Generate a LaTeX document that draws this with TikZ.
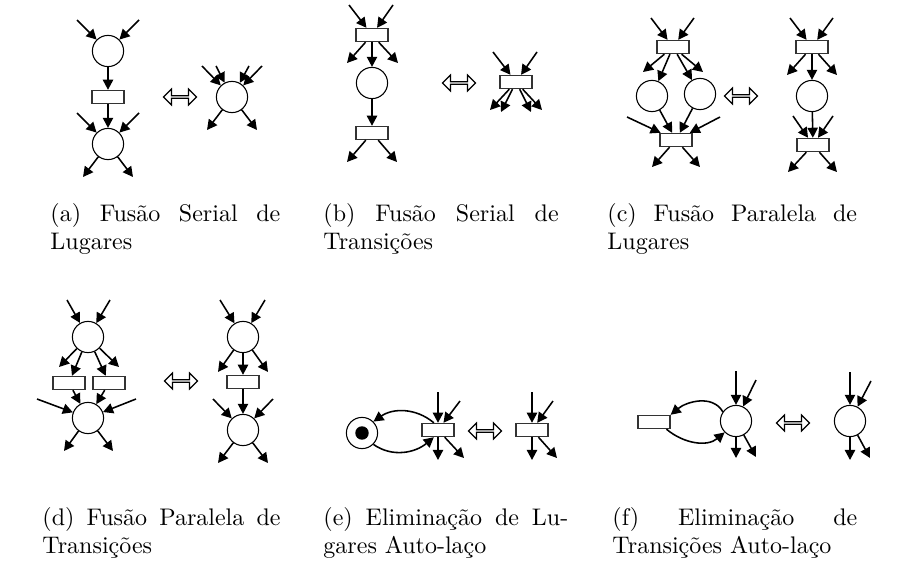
\documentclass[tikz,border=0pt]{standalone}
\usepackage{fontspec}
\usepackage{tikz}
\usetikzlibrary{shapes.arrows,arrows.meta}

\begin{document}
\begin{tikzpicture}[x=0.41667pt,y=-0.41667pt,
                lugar/.style={circle,draw,line width=.45pt,minimum size=13pt,inner sep=0pt},
                ficha/.style={circle,fill=black,minimum size=5.6pt,inner sep=0pt},
                transicao/.style={rectangle,draw=black!80,line width=.6pt,minimum width=13.3pt,minimum height=5.4pt,inner sep=0pt},
                arco/.style={line width=.65pt,-{Triangle[length=4.2pt,width=4.3pt]}},
                equiv/.style={double arrow,draw,line width=.5pt,inner sep=0pt,minimum height=13.75pt,minimum width=6.6pt,double arrow head extend=1.3pt},
                legenda/.style={anchor=base west,inner sep=0pt}]
                \useasboundingbox (0,0) rectangle (897,563);

                \node[lugar] (a1) at (108,51) {};
                \node[transicao] (a2) at (108,97) {};
                \node[lugar] (a3) at (108,144) {};
                \node[equiv] (aeq) at (180,97) {};
                \node[lugar] (a4) at (232,97) {};
                \draw[arco] (a1) -- (a2);
                \draw[arco] (a2) -- (a3);
                \foreach \x/\y [count=\i] in {77/20,139/20} \draw[arco] (\x,\y) coordinate (ai\i) -- (a1);
                \foreach \x/\y [count=\i] in {77/113,139/113} \draw[arco] (\x,\y) coordinate (aj\i) -- (a3);
                \foreach \x/\y [count=\i] in {83/177,133/177} \draw[arco] (a3) -- (\x,\y) coordinate (ao\i);
                \foreach \x/\y [count=\i] in {202/66,216/66,249/66,262/66} \draw[arco] (\x,\y) coordinate (ak\i) -- (a4);
                \foreach \x/\y [count=\i] in {207/130,257/130} \draw[arco] (a4) -- (\x,\y) coordinate (ap\i);

                \node[transicao] (b1) at (372,35) {};
                \node[lugar] (b2) at (372,83) {};
                \node[transicao] (b3) at (372,133) {};
                \node[equiv] (beq) at (459,83) {};
                \node[transicao] (b4) at (516,82) {};
                \draw[arco] (b1) -- (b2);
                \draw[arco] (b2) -- (b3);
                \foreach \x/\y [count=\i] in {349/5,393/5} \draw[arco] (\x,\y) coordinate (bi\i) -- (b1);
                \foreach \x/\y [count=\i] in {347/63,398/63} \draw[arco] (b1) -- (\x,\y) coordinate (bo\i);
                \foreach \x/\y [count=\i] in {347/162,397/162} \draw[arco] (b3) -- (\x,\y) coordinate (bp\i);
                \foreach \x/\y [count=\i] in {493/52,537/52} \draw[arco] (\x,\y) coordinate (bj\i) -- (b4);
                \foreach \x/\y [count=\i] in {490/110,501/112,531/112,542/110} \draw[arco] (b4) -- (\x,\y) coordinate (bq\i);

                \node[transicao] (c1) at (673,47) {};
                \node[lugar] (c2) at (652,96) {};
                \node[lugar] (c3) at (700,94) {};
                \node[transicao] (c4) at (676,140) {};
                \node[equiv] (ceq) at (741,96) {};
                \node[transicao] (c5) at (812,47) {};
                \node[lugar] (c6) at (812,96) {};
                \node[transicao] (c7) at (813,145) {};
                \foreach \s/\t in {c1/c2,c1/c3,c2/c4,c3/c4,c5/c6,c6/c7} \draw[arco] (\s) -- (\t);
                \foreach \x/\y [count=\i] in {651/18,694/18} \draw[arco] (\x,\y) coordinate (ci\i) -- (c1);
                \foreach \x/\y [count=\i] in {643/72,703/72} \draw[arco] (c1) -- (\x,\y) coordinate (co\i);
                \foreach \x/\y [count=\i] in {627/117,720/117} \draw[arco] (\x,\y) coordinate (cj\i) -- (c4);
                \foreach \x/\y [count=\i] in {652/167,700/167} \draw[arco] (c4) -- (\x,\y) coordinate (cp\i);
                \foreach \x/\y [count=\i] in {790/18,833/18} \draw[arco] (\x,\y) coordinate (ck\i) -- (c5);
                \foreach \x/\y [count=\i] in {787/75,837/75} \draw[arco] (c5) -- (\x,\y) coordinate (cq\i);
                \foreach \x/\y [count=\i] in {793/116,833/116} \draw[arco] (\x,\y) coordinate (cl\i) -- (c7);
                \foreach \x/\y [count=\i] in {788/172,837/172} \draw[arco] (c7) -- (\x,\y) coordinate (cr\i);

                \node[lugar] (d1) at (88,337) {};
                \node[transicao] (d2) at (69,383) {};
                \node[transicao] (d3) at (109,383) {};
                \node[lugar] (d4) at (88,418) {};
                \node[equiv] (deq) at (181,381) {};
                \node[lugar] (d5) at (243,337) {};
                \node[transicao] (d6) at (243,382) {};
                \node[lugar] (d7) at (243,430) {};
                \foreach \s/\t in {d1/d2,d1/d3,d2/d4,d3/d4,d5/d6,d6/d7} \draw[arco] (\s) -- (\t);
                \foreach \x/\y [count=\i] in {67/300,110/300} \draw[arco] (\x,\y) coordinate (di\i) -- (d1);
                \foreach \x/\y [count=\i] in {59/367,119/367} \draw[arco] (d1) -- (\x,\y) coordinate (do\i);
                \foreach \x/\y [count=\i] in {37/399,136/399} \draw[arco] (\x,\y) coordinate (dj\i) -- (d4);
                \foreach \x/\y [count=\i] in {64/451,113/451} \draw[arco] (d4) -- (\x,\y) coordinate (dp\i);
                \foreach \x/\y [count=\i] in {220/300,265/300} \draw[arco] (\x,\y) coordinate (dk\i) -- (d5);
                \foreach \x/\y [count=\i] in {218/372,268/372} \draw[arco] (d5) -- (\x,\y) coordinate (dq\i);
                \foreach \x/\y [count=\i] in {213/399,273/399} \draw[arco] (\x,\y) coordinate (dl\i) -- (d7);
                \foreach \x/\y [count=\i] in {218/463,268/463} \draw[arco] (d7) -- (\x,\y) coordinate (dr\i);

                \node[lugar] (e1) at (362,433) {};
                \node[ficha] (e1f) at (e1) {};
                \node[transicao] (e2) at (438,430) {};
                \node[equiv] (eeq) at (485,431) {};
                \node[transicao] (e3) at (532,430) {};
                \draw[arco] (e2.120) to[out=140,in=35] (e1.45);
                \draw[arco] (e1.-45) to[out=-35,in=-140] (e2.-120);
                \foreach \x/\y [count=\i] in {438/392,460/401} \draw[arco] (\x,\y) coordinate (ei\i) -- (e2);
                \foreach \x/\y [count=\i] in {438/460,464/458} \draw[arco] (e2) -- (\x,\y) coordinate (eo\i);
                \foreach \x/\y [count=\i] in {532/392,553/401} \draw[arco] (\x,\y) coordinate (ej\i) -- (e3);
                \foreach \x/\y [count=\i] in {532/460,557/458} \draw[arco] (e3) -- (\x,\y) coordinate (ep\i);

                \node[transicao] (f1) at (654,422) {};
                \node[lugar] (f2) at (736,421) {};
                \node[equiv] (feq) at (793,423) {};
                \node[lugar] (f3) at (850,421) {};
                \draw[arco] (f2.145) to[out=120,in=40] (f1.north east);
                \draw[arco] (f1.-30) to[out=-40,in=-140] (f2.-135);
                \foreach \x/\y [count=\i] in {736/371,756/380} \draw[arco] (\x,\y) coordinate (fi\i) -- (f2);
                \foreach \x/\y [count=\i] in {736/458,756/457} \draw[arco] (f2) -- (\x,\y) coordinate (fo\i);
                \foreach \x/\y [count=\i] in {850/372,871/381} \draw[arco] (\x,\y) coordinate (fj\i) -- (f3);
                \foreach \x/\y [count=\i] in {850/460,870/458} \draw[arco] (f3) -- (\x,\y) coordinate (fp\i);

                \node[legenda] (la) at (50,221) {\parbox[t]{95.8pt}{(a) Fusão Serial de\linebreak Lugares}};
                \node[legenda] (lb) at (323,221) {\parbox[t]{98pt}{(b) Fusão Serial de\linebreak Transições}};
                \node[legenda] (lc) at (607,221) {\parbox[t]{104pt}{(c) Fusão Paralela de\linebreak Lugares}};
                \node[legenda] (ld) at (42,525) {\parbox[t]{99.2pt}{(d) Fusão Paralela de\linebreak Transições}};
                \node[legenda] (le) at (323,525) {\parbox[t]{102pt}{(e) Eliminação de Lu-\linebreak gares Auto-laço}};
                \node[legenda] (lf) at (612,525) {\parbox[t]{102pt}{(f) Eliminação de\linebreak Transições Auto-laço}};
            \end{tikzpicture}
\end{document}
